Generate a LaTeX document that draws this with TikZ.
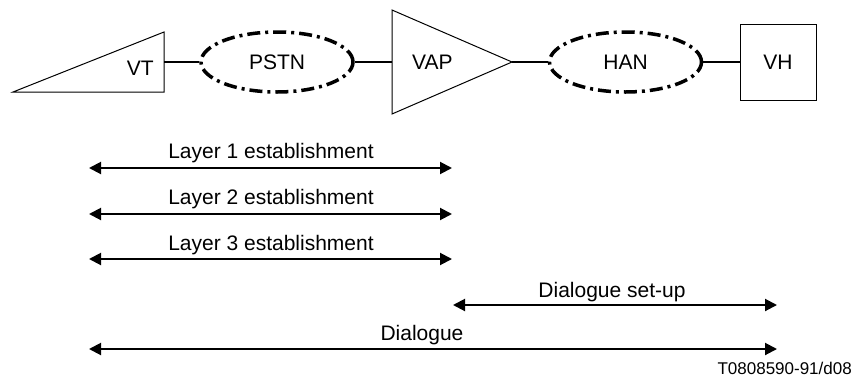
\documentclass[tikz,border=0pt]{standalone}
\usepackage{fontspec}
\setmainfont{Liberation Sans}
\usetikzlibrary{arrows.meta,shapes.geometric}
\begin{document}
\begin{tikzpicture}[x=1pt,y=-1pt,
  shapeline/.style={draw,line width=1pt,line join=miter},
  cloud/.style={ellipse,draw,line width=3.5pt,dash pattern=on 13pt off 5pt on 3pt off 5pt,minimum width=152pt,minimum height=60pt,inner sep=0pt,font=\fontsize{21}{24}\selectfont},
  link/.style={draw,line width=1.5pt},
  lbl/.style={font=\fontsize{21}{24}\selectfont,inner sep=0pt},
  span/.style={draw,line width=2pt,{Triangle[length=12pt,width=12pt]}-{Triangle[length=12pt,width=12pt]}}]
\useasboundingbox (0,0) rectangle (854,378);
% VT
\coordinate (vtA) at (13,92);
\coordinate (vtB) at (164,32);
\coordinate (vtC) at (164,92);
\coordinate (vtR) at (164,62);
\draw[shapeline] (vtA) -- (vtB) -- (vtC) -- cycle;
\node[lbl,anchor=east] (vt) at (154,68) {VT};
% PSTN
\node[cloud] (pstn) at (277,62) {PSTN};
% VAP
\coordinate (vapT) at (392,10);
\coordinate (vapB) at (392,114);
\coordinate (vapL) at (392,62);
\coordinate (vapR) at (512,62);
\draw[shapeline] (vapT) -- (vapR) -- (vapB) -- cycle;
\node[lbl,anchor=west] (vap) at (412,62) {VAP};
% HAN
\node[cloud] (han) at (625.5,62) {HAN};
% VH
\node[draw,line width=1pt,minimum width=76pt,minimum height=76pt,inner sep=0pt,lbl] (vh) at (778,62) {VH};
% links
\draw[link] (vtR) -- (pstn.west);
\draw[link] (pstn.east) -- (vapL);
\draw[link] (vapR) -- (han.west);
\draw[link] (han.east) -- (vh.west);
% spans
\coordinate (l1a) at (89,168); \coordinate (l1b) at (452,168);
\coordinate (l2a) at (89,214); \coordinate (l2b) at (452,214);
\coordinate (l3a) at (89,259); \coordinate (l3b) at (452,259);
\coordinate (dsa) at (453,305); \coordinate (dsb) at (777,305);
\coordinate (dga) at (89,349); \coordinate (dgb) at (777,349);
\draw[span] (l1a) -- (l1b);
\draw[span] (l2a) -- (l2b);
\draw[span] (l3a) -- (l3b);
\draw[span] (dsa) -- (dsb);
\draw[span] (dga) -- (dgb);
\node[lbl] (t1) at (271,153) {Layer 1 establishment};
\node[lbl] (t2) at (271,199) {Layer 2 establishment};
\node[lbl] (t3) at (271,245) {Layer 3 establishment};
\node[lbl] (t4) at (612,292) {Dialogue set-up};
\node[lbl] (t5) at (422,335) {Dialogue};
\node[font=\fontsize{17}{20}\selectfont,inner sep=0pt,anchor=east] (ref) at (852,368) {T0808590-91/d08};
\end{tikzpicture}
\end{document}
